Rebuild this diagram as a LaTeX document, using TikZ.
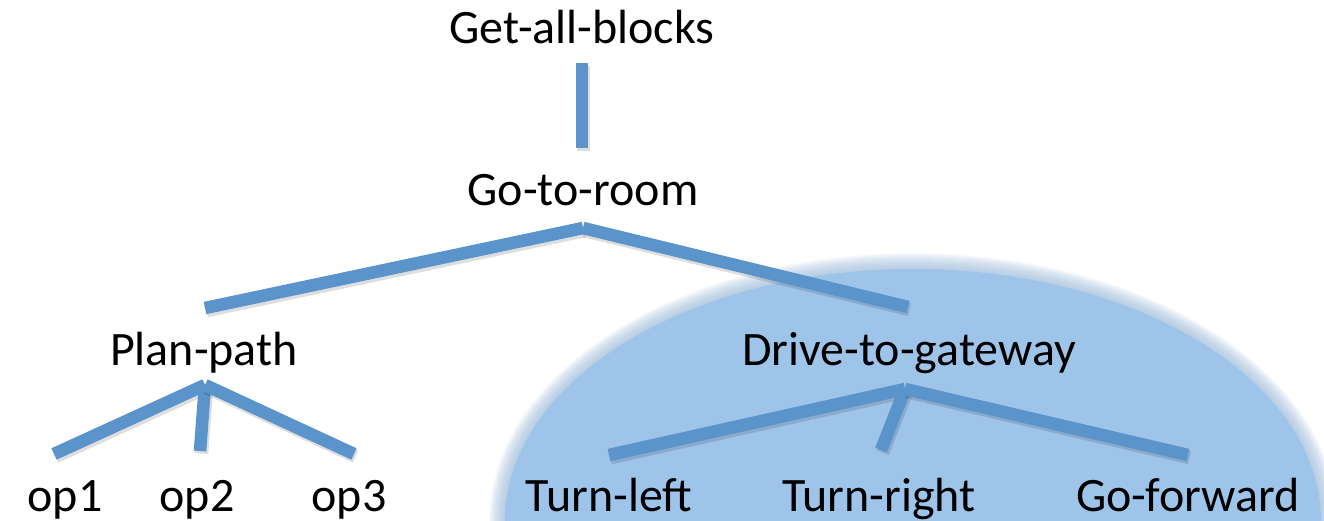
\documentclass[tikz,border=0pt]{standalone}
\usepackage{fontspec}
\setmainfont{Carlito}
\definecolor{twigblue}{RGB}{91,148,203}
\definecolor{ellin}{RGB}{158,196,234}
\definecolor{ellout}{RGB}{158,187,217}
\pgfdeclareradialshading{groupshade}{\pgfpoint{0bp}{0bp}}{%
  color(0bp)=(ellin); color(26bp)=(ellin); color(42bp)=(ellout); color(50bp)=(ellout)}
% a branch of the tree, with a soft shadow under it
\newcommand\twig[2]{%
  \draw[twigshade] ([xshift=1.2pt,yshift=-2pt]#1) -- ([xshift=1.2pt,yshift=-2pt]#2);
  \draw[twig] (#1) -- (#2);}
\begin{document}
\begin{tikzpicture}[x=0.75pt,y=-0.75pt,
  word/.style={font=\fontsize{36}{43}\selectfont, inner sep=0pt, anchor=base},
  twig/.style={line width=9.4pt, draw=twigblue, line cap=butt},
  twigshade/.style={line width=10pt, draw=black, opacity=0.13, line cap=butt}]
\useasboundingbox (0,0) rectangle (1324,521);
\clip (0,0) rectangle (1324,521);

% highlighted sub-tree: a soft-edged ellipse
\foreach \k in {1,...,16}
  \fill[ellout, opacity=0.075] (913,521) ellipse [x radius={408+\k}, y radius={252+\k}];
\shade[shading=groupshade] (913,521) ellipse [x radius=408, y radius=252];

% labels
\node[word] (gab) at (582,43)  {Get-all-blocks};
\node[word] (gtr) at (583,205) {Go-to-room};
\node[word] (pp)  at (204,365) {Plan-path};
\node[word] (dtg) at (909,365) {Drive-to-gateway};
\node[word] (op1) at (65,511)  {op1};
\node[word] (op2) at (197,511) {op2};
\node[word] (op3) at (349,511) {op3};
\node[word] (tl)  at (609,511) {Turn-left};
\node[word] (tr)  at (879,511) {Turn-right};
\node[word] (gf)  at (1188,511) {Go-forward};

% branch end points
\coordinate (gab-s) at (582,63);
\coordinate (gtr-n) at (582,148);
\coordinate (gtr-s) at (583,228);
\coordinate (pp-n)  at (205,308);
\coordinate (dtg-n) at (908,307);
\coordinate (pp-s)  at (205,385);
\coordinate (op1-n) at (54,454);
\coordinate (op2-n) at (200,451);
\coordinate (op3-n) at (354,454);
\coordinate (dtg-s) at (905,389);
\coordinate (tl-n)  at (609,455);
\coordinate (tr-n)  at (881,450);
\coordinate (gf-n)  at (1188,455);

% branches
\twig{gab-s}{gtr-n}
\twig{gtr-s}{pp-n}
\twig{gtr-s}{dtg-n}
\twig{pp-s}{op1-n}
\twig{pp-s}{op2-n}
\twig{pp-s}{op3-n}
\twig{dtg-s}{tl-n}
\twig{dtg-s}{tr-n}
\twig{dtg-s}{gf-n}
\end{tikzpicture}
\end{document}
